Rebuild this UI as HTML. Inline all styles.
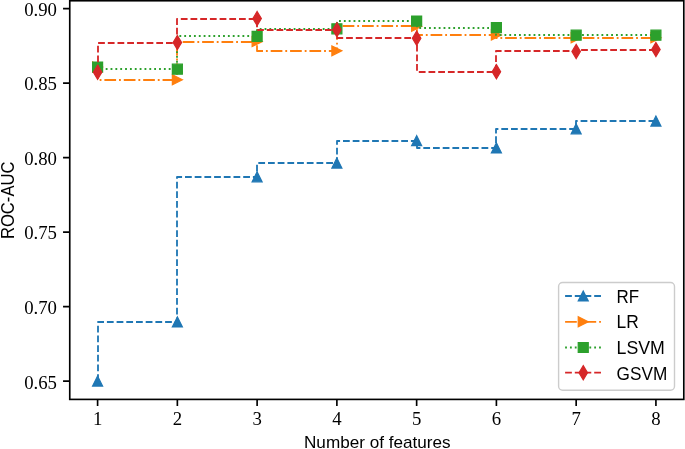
<!DOCTYPE html>
<html><head><meta charset="utf-8"><style>
html,body{margin:0;padding:0;background:#fff;}
body{width:685px;height:449px;overflow:hidden;font-family:"Liberation Sans",sans-serif;}
svg{display:block;will-change:transform;}
</style></head><body>
<svg width="685" height="449" viewBox="0 0 685 449">
<rect width="685" height="449" fill="#fff"/>
<defs><clipPath id="ax"><rect x="69.75" y="0.75" width="614.05" height="398.65"/></clipPath></defs>
<g clip-path="url(#ax)">
<path d="M98 381 L98 322 L177 322 L177 177 L257 177 L257 163 L337 163 L337 141 L417 141 L417 148 L496 148 L496 129 L576 129 L576 121 L656 121" fill="none" stroke="#1f77b4" stroke-width="1.83" stroke-dasharray="6.77 2.93" stroke-linejoin="round" stroke-linecap="butt"/>
<path d="M97.6 376.1 L92.6 386.1 L102.6 386.1 Z M177.36 316.94 L172.36 326.94 L182.36 326.94 Z M257.12 171.79 L252.12 181.79 L262.12 181.79 Z M336.88 158.08 L331.88 168.08 L341.88 168.08 Z M416.64 135.73 L411.64 145.73 L421.64 145.73 Z M496.4 142.88 L491.4 152.88 L501.4 152.88 Z M576.16 123.81 L571.16 133.81 L581.16 133.81 Z M655.92 116.06 L650.92 126.06 L660.92 126.06 Z" fill="#1f77b4" stroke="#1f77b4" stroke-width="1.22" stroke-linejoin="miter"/>
<path d="M98 67 L98 80 L177 80 L177 42 L257 42 L257 51 L337 51 L337 26 L417 26 L417 35 L496 35 L496 38 L576 38 L576 38 L656 38" fill="none" stroke="#ff7f0e" stroke-width="1.83" stroke-dasharray="11.7 2.93 1.83 2.93" stroke-linejoin="round" stroke-linecap="butt"/>
<path d="M102.6 67.11 L92.6 62.11 L92.6 72.11 Z M182.36 79.78 L172.36 74.78 L172.36 84.78 Z M262.12 41.63 L252.12 36.63 L252.12 46.63 Z M341.88 50.87 L331.88 45.87 L331.88 55.87 Z M421.64 26.28 L411.64 21.28 L411.64 31.28 Z M501.4 34.93 L491.4 29.93 L491.4 39.93 Z M581.16 37.76 L571.16 32.76 L571.16 42.76 Z M660.92 37.76 L650.92 32.76 L650.92 42.76 Z" fill="#ff7f0e" stroke="#ff7f0e" stroke-width="1.22" stroke-linejoin="miter"/>
<path d="M98 67 L98 69 L177 69 L177 36 L257 36 L257 29 L337 29 L337 21 L417 21 L417 28 L496 28 L496 35 L576 35 L576 35 L656 35" fill="none" stroke="#2ca02c" stroke-width="1.83" stroke-dasharray="1.83 3.02" stroke-linejoin="round" stroke-linecap="butt"/>
<path d="M92.6 62.11 L102.6 62.11 L102.6 72.11 L92.6 72.11 Z M172.36 64.2 L182.36 64.2 L182.36 74.2 L172.36 74.2 Z M252.12 31.42 L262.12 31.42 L262.12 41.42 L252.12 41.42 Z M331.88 23.82 L341.88 23.82 L341.88 33.82 L331.88 33.82 Z M411.64 16.07 L421.64 16.07 L421.64 26.07 L411.64 26.07 Z M491.4 22.62 L501.4 22.62 L501.4 32.62 L491.4 32.62 Z M571.16 30.22 L581.16 30.22 L581.16 40.22 L571.16 40.22 Z M650.92 30.22 L660.92 30.22 L660.92 40.22 L650.92 40.22 Z" fill="#2ca02c" stroke="#2ca02c" stroke-width="1.22" stroke-linejoin="miter"/>
<path d="M98 72 L98 43 L177 43 L177 19 L257 19 L257 30 L337 30 L337 38 L417 38 L417 72 L496 72 L496 51 L576 51 L576 50 L656 50" fill="none" stroke="#d62728" stroke-width="1.83" stroke-dasharray="6.77 2.93" stroke-linejoin="round" stroke-linecap="butt"/>
<path d="M97.6 65.11 L101.84 72.18 L97.6 79.25 L93.36 72.18 Z M177.36 35.46 L181.6 42.53 L177.36 49.6 L173.12 42.53 Z M257.12 11.46 L261.36 18.53 L257.12 25.61 L252.88 18.53 Z M336.88 22.64 L341.12 29.71 L336.88 36.78 L332.64 29.71 Z M416.64 31.13 L420.88 38.2 L416.64 45.28 L412.4 38.2 Z M496.4 64.66 L500.64 71.73 L496.4 78.81 L492.16 71.73 Z M576.16 44.4 L580.4 51.47 L576.16 58.54 L571.92 51.47 Z M655.92 42.46 L660.16 49.53 L655.92 56.6 L651.68 49.53 Z" fill="#d62728" stroke="#d62728" stroke-width="1.22" stroke-linejoin="miter"/>
</g>
<rect x="69.75" y="0.75" width="614.05" height="398.65" fill="none" stroke="#000" stroke-width="1.65"/>
<path d="M97.6 399.4 V406.1 M177.36 399.4 V406.1 M257.12 399.4 V406.1 M336.88 399.4 V406.1 M416.64 399.4 V406.1 M496.4 399.4 V406.1 M576.16 399.4 V406.1 M655.92 399.4 V406.1 M69.75 8.55 H63.05 M69.75 83.06 H63.05 M69.75 157.57 H63.05 M69.75 232.08 H63.05 M69.75 306.59 H63.05 M69.75 381.1 H63.05" stroke="#000" stroke-width="1.65" fill="none"/>
<g font-family="Liberation Serif, serif" font-size="18.8" fill="#000">
<text x="97.6" y="425" text-anchor="middle">1</text>
<text x="177.36" y="425" text-anchor="middle">2</text>
<text x="257.12" y="425" text-anchor="middle">3</text>
<text x="336.88" y="425" text-anchor="middle">4</text>
<text x="416.64" y="425" text-anchor="middle">5</text>
<text x="496.4" y="425" text-anchor="middle">6</text>
<text x="576.16" y="425" text-anchor="middle">7</text>
<text x="655.92" y="425" text-anchor="middle">8</text>
<text x="57" y="15.95" text-anchor="end">0.90</text>
<text x="57" y="90.46" text-anchor="end">0.85</text>
<text x="57" y="164.97" text-anchor="end">0.80</text>
<text x="57" y="239.48" text-anchor="end">0.75</text>
<text x="57" y="313.99" text-anchor="end">0.70</text>
<text x="57" y="388.5" text-anchor="end">0.65</text>
</g>
<g font-family="Liberation Sans, sans-serif" font-size="17" fill="#000">
<text x="377.3" y="447.8" text-anchor="middle" textLength="146.6" lengthAdjust="spacingAndGlyphs">Number of features</text>
<text transform="translate(13.6 200.3) rotate(-90)" x="0" y="0" font-size="17.8" text-anchor="middle" textLength="77.6" lengthAdjust="spacingAndGlyphs">ROC-AUC</text>
</g>
<rect x="558.6" y="282.5" width="115.9" height="107.8" rx="4" ry="4" fill="#fff" fill-opacity="0.8" stroke="#cccccc" stroke-width="1.4"/>
<path d="M565.1 296 H601.4" stroke="#1f77b4" stroke-width="1.83" stroke-dasharray="6.77 2.93" fill="none"/>
<path d="M583.25 291 L578.25 301 L588.25 301 Z" fill="#1f77b4" stroke="#1f77b4" stroke-width="1.22" stroke-linejoin="miter"/>
<text x="616.6" y="303" font-family="Liberation Sans, sans-serif" font-size="17.8" textLength="22.6" lengthAdjust="spacingAndGlyphs" fill="#000">RF</text>
<path d="M565.1 321.8 H601.4" stroke="#ff7f0e" stroke-width="1.83" stroke-dasharray="11.7 2.93 1.83 2.93" fill="none"/>
<path d="M588.25 321.8 L578.25 316.8 L578.25 326.8 Z" fill="#ff7f0e" stroke="#ff7f0e" stroke-width="1.22" stroke-linejoin="miter"/>
<text x="616.6" y="328.1" font-family="Liberation Sans, sans-serif" font-size="17.8" textLength="22.2" lengthAdjust="spacingAndGlyphs" fill="#000">LR</text>
<path d="M565.1 347.5 H601.4" stroke="#2ca02c" stroke-width="1.83" stroke-dasharray="1.83 3.02" fill="none"/>
<path d="M578.25 342.5 L588.25 342.5 L588.25 352.5 L578.25 352.5 Z" fill="#2ca02c" stroke="#2ca02c" stroke-width="1.22" stroke-linejoin="miter"/>
<text x="616.6" y="354.1" font-family="Liberation Sans, sans-serif" font-size="17.8" textLength="48.3" lengthAdjust="spacingAndGlyphs" fill="#000">LSVM</text>
<path d="M565.1 372.7 H601.4" stroke="#d62728" stroke-width="1.83" stroke-dasharray="6.77 2.93" fill="none"/>
<path d="M583.25 365.63 L587.49 372.7 L583.25 379.77 L579.01 372.7 Z" fill="#d62728" stroke="#d62728" stroke-width="1.22" stroke-linejoin="miter"/>
<text x="616.6" y="379.7" font-family="Liberation Sans, sans-serif" font-size="17.8" textLength="50.7" lengthAdjust="spacingAndGlyphs" fill="#000">GSVM</text>
</svg>
</body></html>
